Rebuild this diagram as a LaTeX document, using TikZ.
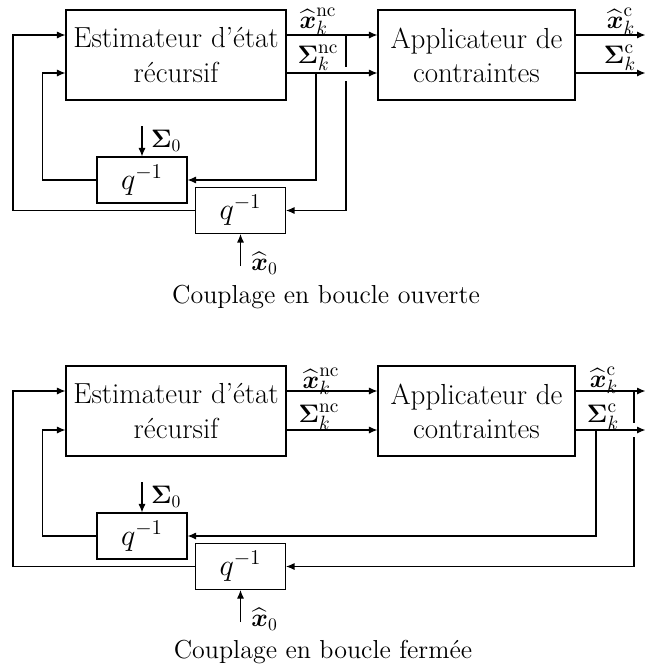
\documentclass[tikz,border=0pt]{standalone}
\usepackage{amsmath, amssymb}
\usepackage{tikz}
\usetikzlibrary{arrows.meta, positioning, calc}

\begin{document}
\begin{tikzpicture}[
  x=0.02cm, y=-0.02cm,
  node distance = 1.82cm,
  blk/.style = {
    draw, line width=0.6pt, align=center, inner sep=2pt,
    font=\fontsize{16.5}{19.5}\selectfont
  },
  est/.style = { blk, minimum width=4.4cm, minimum height=1.8cm },
  app/.style = { blk, minimum width=3.94cm, minimum height=1.8cm },
  dly/.style = { blk, minimum width=1.8cm, minimum height=0.92cm },
  lbl/.style = { font=\fontsize{15}{18}\selectfont, inner sep=0pt },
  inp/.style = { font=\fontsize{14.5}{17}\selectfont, inner sep=0pt },
  captxt/.style = { font=\fontsize{14.8}{17}\selectfont, inner sep=0pt },
  arr/.style = { -{Latex[length=1.7mm, width=1.4mm]}, line width=0.6pt },
  ln/.style  = { line width=0.6pt }
]
\useasboundingbox (0,0) rectangle (645,670);

% --- couplage en boucle ouverte
\node[est] (est1) at (176,55) {Estimateur d'état\\récursif};
\node[app, right=of est1] (app1) {Applicateur de\\contraintes};
\node[dly] (dS1) at (142,180) {$q^{-1}$};
\node[dly] (dX1) at (240.5,210.5) {$q^{-1}$};

\coordinate (r1) at (0,35);
\coordinate (r2) at (0,73);
\coordinate (tS1) at (316,73);
\coordinate (tX1) at (346,35);
\coordinate (gX1) at (346,67);
\coordinate (hX1) at (346,81);

\draw[arr] (est1.east |- r1) -- (app1.west |- r1);
\draw[arr] (est1.east |- r2) -- (app1.west |- r2);
\draw[arr] (app1.east |- r1) -- ++(70,0);
\draw[arr] (app1.east |- r2) -- ++(70,0);

\draw[arr] (tS1) |- (dS1.east);
\draw[ln]  (tX1) -- (gX1);
\draw[arr] (hX1) |- (dX1.east);
\draw[arr] (dS1.west) -- ++(-54,0) |- (est1.west |- r2);
\draw[arr] (dX1.west) -- ++(-182,0) |- (est1.west |- r1);

\path (dS1.north) ++(0,-30) coordinate (s01);
\draw[arr] (s01) -- (dS1.north);
\node[inp, anchor=north west] (S01) at ([xshift=5pt,yshift=-2pt]s01) {$\boldsymbol{\Sigma}_0$};
\path (dX1.south) ++(0,32) coordinate (x01);
\draw[arr] (x01) -- (dX1.south);
\node[inp, anchor=south west] (X01) at ([xshift=6pt,yshift=-5pt]x01) {$\widehat{\boldsymbol{x}}_0$};

\node[lbl, anchor=base] (lx1) at (318,28) {$\widehat{\boldsymbol{x}}_k^{\mathrm{nc}}$};
\node[lbl, anchor=base] (ls1) at (318,63) {$\boldsymbol{\Sigma}_k^{\mathrm{nc}}$};
\node[lbl, anchor=base] (lxc1) at (621,28) {$\widehat{\boldsymbol{x}}_k^{\mathrm{c}}$};
\node[lbl, anchor=base] (lsc1) at (620,63) {$\boldsymbol{\Sigma}_k^{\mathrm{c}}$};

\node[captxt] (cap1) at (326,297) {Couplage en boucle ouverte};

% --- couplage en boucle fermee
\begin{scope}[shift={(0,356)}]
\node[est] (est2) at (176,55) {Estimateur d'état\\récursif};
\node[app, right=of est2] (app2) {Applicateur de\\contraintes};
\node[dly] (dS2) at (142,180) {$q^{-1}$};
\node[dly] (dX2) at (240.5,210.5) {$q^{-1}$};

\coordinate (b1) at (0,35);
\coordinate (b2) at (0,74);
\coordinate (tS2) at (596,74);
\coordinate (tX2) at (634,35);
\coordinate (gX2) at (634,67);
\coordinate (hX2) at (634,81);

\draw[arr] (est2.east |- b1) -- (app2.west |- b1);
\draw[arr] (est2.east |- b2) -- (app2.west |- b2);
\draw[arr] (app2.east |- b1) -- ++(70,0);
\draw[arr] (app2.east |- b2) -- ++(70,0);

\draw[arr] (tS2) |- (dS2.east);
\draw[ln]  (tX2) -- (gX2);
\draw[arr] (hX2) |- (dX2.east);
\draw[arr] (dS2.west) -- ++(-54,0) |- (est2.west |- b2);
\draw[arr] (dX2.west) -- ++(-182,0) |- (est2.west |- b1);

\path (dS2.north) ++(0,-30) coordinate (s02);
\draw[arr] (s02) -- (dS2.north);
\node[inp, anchor=north west] (S02) at ([xshift=5pt,yshift=-2pt]s02) {$\boldsymbol{\Sigma}_0$};
\path (dX2.south) ++(0,32) coordinate (x02);
\draw[arr] (x02) -- (dX2.south);
\node[inp, anchor=south west] (X02) at ([xshift=6pt,yshift=-5pt]x02) {$\widehat{\boldsymbol{x}}_0$};

\node[lbl, anchor=base] (lx2) at (321,32) {$\widehat{\boldsymbol{x}}_k^{\mathrm{nc}}$};
\node[lbl, anchor=base] (ls2) at (319,66) {$\boldsymbol{\Sigma}_k^{\mathrm{nc}}$};
\node[lbl, anchor=base] (lxc2) at (604,31) {$\widehat{\boldsymbol{x}}_k^{\mathrm{c}}$};
\node[lbl, anchor=base] (lsc2) at (603,66) {$\boldsymbol{\Sigma}_k^{\mathrm{c}}$};

\node[captxt] (cap2) at (323,296) {Couplage en boucle fermée};
\end{scope}

\end{tikzpicture}
\end{document}
